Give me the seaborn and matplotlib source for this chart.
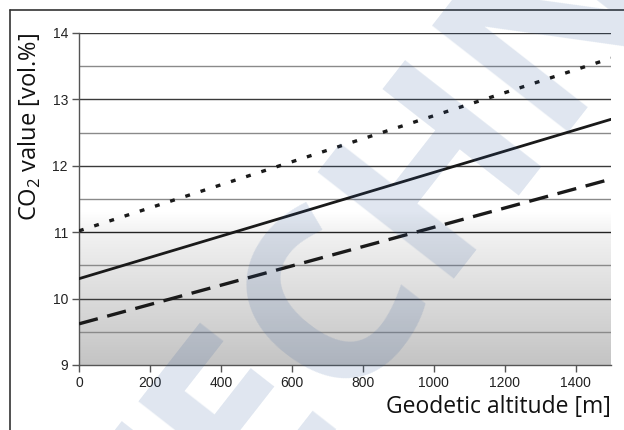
import numpy as np
import pandas as pd
import matplotlib
matplotlib.use('Agg')
import matplotlib.pyplot as plt
import seaborn as sns
from matplotlib.colors import LinearSegmentedColormap
from matplotlib.lines import Line2D

# 数据：海拔高度与三条 CO2 曲线
altitude = [0, 1500]
co2_upper = [11.02, 13.62]
co2_mid = [10.30, 12.70]
co2_lower = [9.62, 11.80]
x_ticks = [0, 200, 400, 600, 800, 1000, 1200, 1400]
y_ticks = [9, 10, 11, 12, 13, 14]
y_half = [9.5, 10.5, 11.5, 12.5, 13.5]

sns.set_theme(style='white')
plt.rcParams['font.family'] = ['Liberation Sans', 'DejaVu Sans']
plt.rcParams['lines.scale_dashes'] = False
plt.rcParams['mathtext.fontset'] = 'custom'
plt.rcParams['mathtext.rm'] = 'Open Sans'

df = pd.DataFrame({'alt': altitude, 'upper': co2_upper, 'mid': co2_mid, 'lower': co2_lower})

fig = plt.figure(figsize=(6.24, 4.30), dpi=100)
ax = fig.add_axes([79 / 624, 1 - 365 / 430, 532 / 624, 332 / 430])

# 灰色渐变背景
cmap = LinearSegmentedColormap.from_list('bg', [(0.0, '#c4c4c4'), (0.87, '#f2f2f2'), (1.0, '#ffffff')])
grad = np.linspace(0, 1, 256).reshape(-1, 1)
ax.imshow(grad, extent=[0, 1500, 9, 11.3], origin='lower', cmap=cmap, aspect='auto', zorder=0)

# 网格线
for v in y_half:
    ax.axhline(v, color='#8a8a8a', lw=1.0, zorder=1)
for v in y_ticks[1:]:
    ax.axhline(v, color='#222222' if v == 11 else '#3a3a3a', lw=1.0, zorder=1)

sns.lineplot(data=df, x='alt', y='upper', ax=ax, color='#1a1a1a', lw=2.4, zorder=3)
ax.lines[-1].set_dashes((3.5, 8.0))
sns.lineplot(data=df, x='alt', y='mid', ax=ax, color='#1a1a1a', lw=2.0, zorder=3)
sns.lineplot(data=df, x='alt', y='lower', ax=ax, color='#1a1a1a', lw=2.4, zorder=3)
ax.lines[-1].set_dashes((14.0, 7.0))

ax.set_xlim(0, 1500)
ax.set_ylim(9, 14)
ax.set_xticks(x_ticks)
ax.set_yticks(y_ticks)
ax.tick_params(axis='both', which='both', direction='out', length=5, width=1, color='#555555',
               labelsize=10, labelcolor='#222222', pad=3, bottom=True, left=True)
ax.set_xlabel('')
ax.set_ylabel('')
for s in ['top', 'right']:
    ax.spines[s].set_visible(False)
for s in ['left', 'bottom']:
    ax.spines[s].set_color('#555555')
    ax.spines[s].set_linewidth(1.0)
ax.set_facecolor('white')

fig.text(30 / 624, 1 - 127 / 430, 'CO$_\\mathregular{2}$ value [vol.%]', rotation=90,
         ha='center', va='center', fontsize=17, family='Open Sans', color='#111111')
fig.text(611 / 624, 1 - 413 / 430, 'Geodetic altitude [m]', ha='right', va='baseline',
         fontsize=16.5, family='Open Sans', color='#111111')

# 外框线
fig.add_artist(Line2D([10 / 624, 1], [1 - 10 / 430, 1 - 10 / 430], color='#333333', lw=1.2))
fig.add_artist(Line2D([10 / 624, 10 / 624], [0, 1 - 10 / 430], color='#333333', lw=1.2))

# 水印
fig.text(400 / 624, 1 - 240 / 430, 'TECHNI', rotation=52, rotation_mode='anchor',
         ha='center', va='center', fontsize=175, family=['Liberation Sans Narrow', 'Open Sans'],
         weight='bold', color='#2a5599', alpha=0.15, zorder=10)

fig.savefig('out.png', dpi=100)
